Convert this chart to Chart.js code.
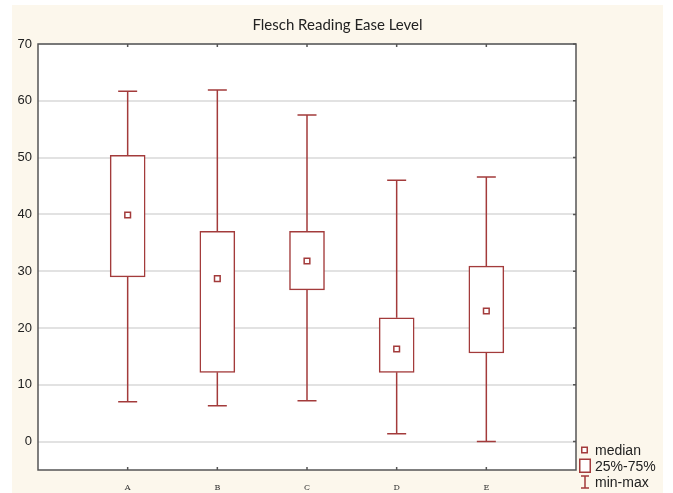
<!DOCTYPE html>
<html>
<head>
<meta charset="utf-8">
<script src="https://cdn.jsdelivr.net/npm/chart.js@4/dist/chart.umd.min.js"></script>
<style>
  body { margin: 0; background: #ffffff; }
  #wrap { position: absolute; left: 12px; top: 5px; width: 651px; height: 488px; background: #fcf7ec; }
  #legend { position: absolute; left: 567px; top: 433px; font-family: "Liberation Sans", Arial, sans-serif; font-size: 14px; color: #222; }
  .item { position: absolute; left: 16px; white-space: nowrap; line-height: 16px; }
  .item svg { position: absolute; left: -16px; }
</style>
</head>
<body>
<div id="wrap">
  <canvas id="chart" width="651" height="488"></canvas>
  <div id="legend">
    <div class="item" style="top:4px">
      <svg width="14" height="16" style="top:0"><rect x="2.75" y="5.25" width="5.5" height="5.5" fill="#fff" stroke="#a33b3b" stroke-width="1.5"/></svg>median
    </div>
    <div class="item" style="top:20px">
      <svg width="14" height="16" style="top:0"><rect x="0.75" y="1.25" width="10.5" height="13" fill="#fff" stroke="#a33b3b" stroke-width="1.5"/></svg>25%-75%
    </div>
    <div class="item" style="top:36px">
      <svg width="14" height="16" style="top:0"><path d="M2 2H10M6 2V14M2 14H10" fill="none" stroke="#a33b3b" stroke-width="1.5"/></svg>min-max
    </div>
  </div>
</div>
<script>
const categories = ["A", "B", "C", "D", "E"];
const minValues = [7.0, 6.3, 7.2, 1.4, 0.0];
const q1Values = [29.0, 12.2, 26.7, 12.2, 15.6];
const medianValues = [39.9, 28.7, 31.8, 16.3, 23.0];
const q3Values = [50.4, 37.0, 37.0, 21.8, 30.9];
const maxValues = [61.7, 61.9, 57.5, 46.0, 46.6];
const yTicks = [0, 10, 20, 30, 40, 50, 60, 70];

const boxColor = "#a33b3b";
const frameColor = "#555555";

// fond blanc de la zone de tracé + cadre, graduations et moustaches
const boxPlotPlugin = {
  id: "boxPlot",
  beforeDraw(chart) {
    const { ctx, chartArea: a } = chart;
    ctx.save();
    ctx.fillStyle = "#ffffff";
    ctx.fillRect(a.left, a.top, a.right - a.left, a.bottom - a.top);
    ctx.restore();
  },
  beforeDatasetsDraw(chart) {
    const { ctx, scales } = chart;
    const x = scales.x, y = scales.y;
    ctx.save();
    ctx.strokeStyle = boxColor;
    ctx.lineWidth = 1.5;
    categories.forEach((c, i) => {
      const px = x.getPixelForValue(i + 1);
      const yMin = y.getPixelForValue(minValues[i]);
      const yQ1 = y.getPixelForValue(q1Values[i]);
      const yQ3 = y.getPixelForValue(q3Values[i]);
      const yMax = y.getPixelForValue(maxValues[i]);
      ctx.beginPath();
      ctx.moveTo(px, yMin); ctx.lineTo(px, yQ1);
      ctx.moveTo(px, yQ3); ctx.lineTo(px, yMax);
      ctx.moveTo(px - 9.5, yMin); ctx.lineTo(px + 9.5, yMin);
      ctx.moveTo(px - 9.5, yMax); ctx.lineTo(px + 9.5, yMax);
      ctx.stroke();
    });
    ctx.restore();
  },
  afterDraw(chart) {
    const { ctx, chartArea: a, scales } = chart;
    ctx.save();
    ctx.strokeStyle = frameColor;
    ctx.lineWidth = 1.5;
    ctx.strokeRect(a.left, a.top, a.right - a.left, a.bottom - a.top);
    ctx.beginPath();
    categories.forEach((c, i) => {
      const px = scales.x.getPixelForValue(i + 1);
      ctx.moveTo(px, a.top); ctx.lineTo(px, a.top + 3);
      ctx.moveTo(px, a.bottom); ctx.lineTo(px, a.bottom - 3);
    });
    yTicks.forEach((v) => {
      const py = scales.y.getPixelForValue(v);
      ctx.moveTo(a.right, py); ctx.lineTo(a.right - 3, py);
    });
    ctx.stroke();
    ctx.restore();
  },
};

new Chart(document.getElementById("chart"), {
  data: {
    datasets: [
      {
        type: "bar",
        data: categories.map((c, i) => ({ x: i + 1, y: [q1Values[i], q3Values[i]] })),
        backgroundColor: "#ffffff",
        borderColor: boxColor,
        borderWidth: 1.5,
        borderSkipped: false,
        barThickness: 35,
        grouped: false,
        order: 2,
      },
      {
        type: "scatter",
        data: categories.map((c, i) => ({ x: i + 1, y: medianValues[i] })),
        pointStyle: "rect",
        pointRadius: 4,
        pointBackgroundColor: "#ffffff",
        pointBorderColor: boxColor,
        pointBorderWidth: 1.5,
        order: 1,
      },
    ],
  },
  options: {
    responsive: false,
    animation: false,
    layout: { padding: 0 },
    plugins: {
      legend: { display: false },
      tooltip: { enabled: false },
      title: {
        display: true,
        text: "Flesch Reading Ease Level",
        color: "#222222",
        font: { family: "Lato, 'Open Sans', sans-serif", size: 15, weight: "normal" },
        padding: { top: 11, bottom: 10 },
      },
    },
    scales: {
      x: {
        type: "linear",
        min: 0,
        max: 6,
        offset: false,
        afterBuildTicks: (scale) => {
          scale.ticks = categories.map((c, i) => ({ value: i + 1 }));
        },
        afterFit: (scale) => { scale.height = 23; },
        ticks: {
          callback: (value) => categories[value - 1],
          font: { family: "'DejaVu Serif', serif", size: 8 },
          color: "#333333",
          padding: 13,
          maxRotation: 0,
        },
        grid: { display: false, drawTicks: false },
        border: { display: false },
      },
      y: {
        min: -5,
        max: 70,
        afterBuildTicks: (scale) => {
          scale.ticks = yTicks.map((v) => ({ value: v }));
        },
        afterFit: (scale) => { scale.width = 26; },
        ticks: {
          font: { family: "'Liberation Sans', Arial, sans-serif", size: 13 },
          color: "#222222",
          padding: 6,
        },
        grid: { color: "#e2e2e2", lineWidth: 2, drawTicks: false },
        border: { display: false },
      },
      // espace vide à droite pour la légende
      yRight: {
        position: "right",
        min: -5,
        max: 70,
        afterFit: (scale) => { scale.width = 87; },
        ticks: { display: false },
        grid: { display: false, drawTicks: false },
        border: { display: false },
      },
    },
  },
  plugins: [boxPlotPlugin],
});
</script>
</body>
</html>
